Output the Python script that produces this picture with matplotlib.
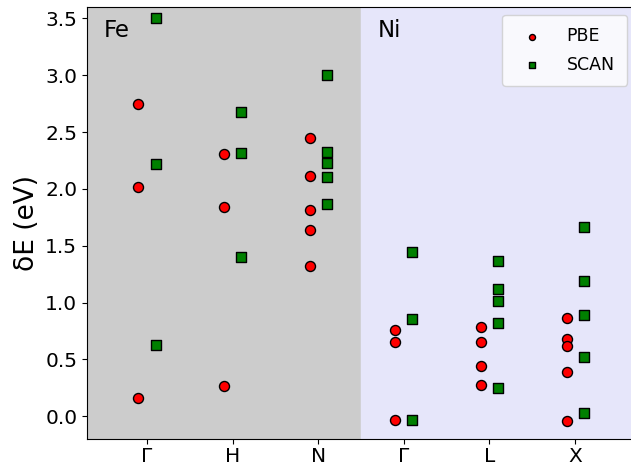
import matplotlib
matplotlib.use("Agg")
import matplotlib.pyplot as plt

kpoints = ["Γ", "H", "N", "Γ", "L", "X"]

pbe_x = [0, 0, 0, 1, 1, 1, 2, 2, 2, 2, 2,
         3, 3, 3, 4, 4, 4, 4, 5, 5, 5, 5, 5]
pbe_y = [2.75, 2.02, 0.16, 2.31, 1.84, 0.27, 2.445, 2.11, 1.81, 1.64, 1.32,
         0.755, 0.655, -0.035, 0.785, 0.655, 0.445, 0.275, 0.865, 0.683, 0.616, 0.385, -0.04]

scan_x = [0, 0, 0, 1, 1, 1, 2, 2, 2, 2, 2,
          3, 3, 3, 4, 4, 4, 4, 4, 5, 5, 5, 5, 5]
scan_y = [3.50, 2.22, 0.625, 2.68, 2.315, 1.40, 3.005, 2.322, 2.225, 2.102, 1.867,
          1.447, 0.852, -0.03, 1.365, 1.12, 1.015, 0.82, 0.247, 1.665, 1.19, 0.888, 0.518, 0.03]

fig = plt.figure(figsize=(6.31, 4.66), dpi=100)
ax = fig.add_axes([87/631, 27/466, (635-87)/631, (439-7)/466])

ax.axvspan(-0.7, 2.5, color="#cccccc", zorder=0)
ax.axvspan(2.5, 5.7, color="#e6e6fa", zorder=0)

ax.scatter([x - 0.1 for x in pbe_x], pbe_y, marker="o", s=52, c="red",
           edgecolors="black", linewidths=1.0, label="PBE", zorder=3)
ax.scatter([x + 0.1 for x in scan_x], scan_y, marker="s", s=48, c="green",
           edgecolors="black", linewidths=1.0, label="SCAN", zorder=3)

ax.set_xlim(-0.7, 5.7)
ax.set_ylim(-0.2, 3.6)
ax.set_xticks(range(len(kpoints)))
ax.set_xticklabels(kpoints, fontsize=14.5)
ax.tick_params(axis="x", pad=2.5)
ax.set_yticks([0.0, 0.5, 1.0, 1.5, 2.0, 2.5, 3.0, 3.5])
ax.set_yticklabels(["0.0", "0.5", "1.0", "1.5", "2.0", "2.5", "3.0", "3.5"], fontsize=14.5)
ax.set_ylabel("δE (eV)", fontsize=19)

ax.text(-0.5, 3.39, "Fe", fontsize=16.5, va="center", ha="left")
ax.text(2.7, 3.39, "Ni", fontsize=16.5, va="center", ha="left")

ax.legend(loc="upper right", bbox_to_anchor=(627/631, (466-15)/466),
          bbox_transform=fig.transFigure, borderaxespad=0,
          fontsize=12.5, markerscale=0.6, framealpha=0.8,
          borderpad=0.7, handletextpad=1.0, labelspacing=0.6)

fig.savefig("out.png", dpi=100)
